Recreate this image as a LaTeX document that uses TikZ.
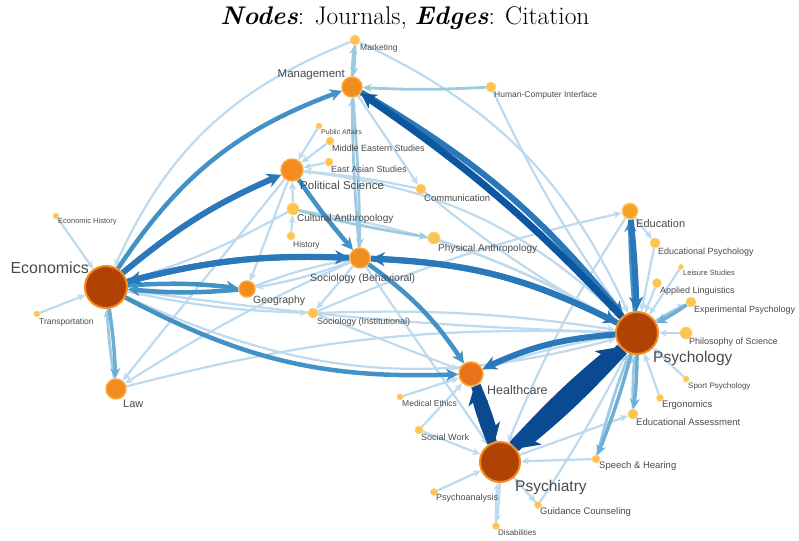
\documentclass[tikz,border=0pt]{standalone}
\usepackage{fontspec}
\newfontfamily\labfont{Liberation Sans}
\usetikzlibrary{arrows.meta, backgrounds}

\definecolor{jdark}{HTML}{B04303}
\definecolor{jrim}{HTML}{F28A1E}
\definecolor{jhc}{HTML}{E8711A}
\definecolor{jmid}{HTML}{F28C1E}
\definecolor{jmidrim}{HTML}{FBAA3A}
\definecolor{jedu}{HTML}{F9A22A}
\definecolor{jsmall}{HTML}{FEC451}
\definecolor{jsmallrim}{HTML}{FED47A}
\definecolor{labgray}{HTML}{4A4A4A}
\definecolor{bl1}{HTML}{BDDAEE}
\definecolor{bl2}{HTML}{9ECAE1}
\definecolor{bl3}{HTML}{6BAED6}
\definecolor{bl4}{HTML}{4292C6}
\definecolor{bl5}{HTML}{2A78B9}
\definecolor{bl6}{HTML}{0D56A0}
\definecolor{bl7}{HTML}{0A4A91}

\begin{document}
\begin{tikzpicture}[x=1pt, y=-1pt,
    jbig/.style={circle, fill=jdark, draw=jrim, line width=2pt, inner sep=0pt, minimum size=#1},
    jhealth/.style={circle, fill=jhc, draw=jmidrim, line width=1.6pt, inner sep=0pt, minimum size=#1},
    jmed/.style={circle, fill=jmid, draw=jmidrim, line width=1.4pt, inner sep=0pt, minimum size=#1},
    jedu/.style={circle, fill=jedu, draw=jsmallrim, line width=1.2pt, inner sep=0pt, minimum size=#1},
    jsm/.style={circle, fill=jsmall, draw=jsmallrim, line width=0.6pt, inner sep=0pt, minimum size=#1},
    lab/.style={font=\labfont\fontsize{#1}{#1}\selectfont, text=labgray, inner sep=0pt, anchor=west},
    w1/.style={draw=bl1, line width=2.2pt, -{Stealth[length=8pt, width=7pt, inset=2.5pt]}},
    w2/.style={draw=bl2, line width=2.8pt, -{Stealth[length=9pt, width=8pt, inset=3pt]}},
    w3/.style={draw=bl3, line width=3.5pt, -{Stealth[length=10pt, width=10pt, inset=3pt]}},
    w4/.style={draw=bl4, line width=4.5pt, -{Stealth[length=12pt, width=12pt, inset=3.5pt]}},
    w5/.style={draw=bl5, line width=6pt, -{Stealth[length=14pt, width=14pt, inset=4pt]}},
    w6/.style={draw=bl6, line width=7pt, -{Stealth[length=15pt, width=16pt, inset=4pt]}},
    w7/.style={draw=bl7, line width=10pt, -{Stealth[length=18pt, width=20pt, inset=5pt]}},
    w8/.style={draw=bl7, line width=13pt, -{Stealth[length=22pt, width=25pt, inset=6pt]}}
]
\useasboundingbox (0,0) rectangle (799,540);

\node[font=\fontsize{25.5}{28}\selectfont] (title) at (405,18)
     {\textbf{\textit{Nodes}}: Journals, \textbf{\textit{Edges}}: Citation};

% large journals
\node[jbig=42pt] (econ) at (106,287) {};
\node[jbig=42pt] (psych) at (637,333) {};
\node[jbig=40pt] (psychiatry) at (500,462) {};
\node[jhealth=24pt] (hc) at (471,374) {};
\node[jmed=20pt] (mgmt) at (352,87) {};
\node[jmed=22pt] (polsci) at (292,170) {};
\node[jmed=20pt] (socbeh) at (360,258) {};
\node[jmed=20pt] (law) at (116,389) {};
\node[jmed=16pt] (geo) at (247,289) {};
\node[jedu=16pt] (educ) at (630,211) {};

% small journals
\foreach \n/\px/\py/\s in {mkt/355/40/10, hci/491/87/10, pubaff/319/126/6,
    mideast/330/141/8, eastasian/329/162/8, comm/421/189/10, culanth/293/209/12,
    history/291/236/8, physanth/434/238/12, econhist/56/216/6, transp/37/314/6,
    socinst/313/313/10, medeth/400/397/6, socwork/419/430/8, psychoan/434/492/7,
    guid/538/505/7, disab/496/526/7, speech/596/459/8, edassess/633/414/10,
    ergo/660/398/7, sport/686/379/6, philsci/686/333/12, exppsych/691/302/10,
    appling/657/283/9, leisure/681/267/5, edpsych/655/243/10}
  \node[jsm=\s pt] (\n) at (\px,\py) {};

% names
\node[lab=16, anchor=east] (l-econ) at (89,268) {Economics};
\node[lab=11.5, anchor=east] (l-mgmt) at (345,75) {Management};
\foreach \n/\px/\py/\sz/\txt in {psych/653/358/15.5/Psychology,
    psychiatry/515/487/15.5/Psychiatry, hc/487/390/12.5/Healthcare,
    polsci/300/185/11.5/Political Science, socbeh/310/279/10.5/Sociology (Behavioral),
    geo/253/301/10.5/Geography, law/123/404/11/Law, educ/636/224/11/Education,
    culanth/297/219/10/Cultural Anthropology, physanth/438/249/10/Physical Anthropology,
    comm/424/198/9.5/Communication, socinst/317/322/9/Sociology (Institutional),
    hci/494/95/8.5/Human-Computer Interface, mkt/360/48/8.5/Marketing,
    pubaff/321/132/7/Public Affairs, mideast/332/148/9/Middle Eastern Studies,
    eastasian/331/169/9/East Asian Studies, history/293/245/8.5/History,
    econhist/58/222/7.5/Economic History, transp/39/322/8.5/Transportation,
    medeth/402/403/8.5/Medical Ethics, socwork/421/437/9/Social Work,
    psychoan/436/498/9/Psychoanalysis, guid/540/512/9.5/Guidance Counseling,
    disab/498/533/8/Disabilities, speech/599/466/9.5/Speech \& Hearing,
    edassess/636/422/9.5/Educational Assessment, ergo/662/405/9.5/Ergonomics,
    sport/688/386/8/Sport Psychology, philsci/689/342/9/Philosophy of Science,
    exppsych/694/310/9/Experimental Psychology, appling/660/291/9/Applied Linguistics,
    leisure/683/273/7.5/Leisure Studies, edpsych/658/252/9/Educational Psychology}
  \node[lab=\sz] (l-\n) at (\px,\py) {\txt};

\begin{scope}[on background layer]
% citations, light to heavy
\foreach \a/\b/\bd in {econhist/econ/0, transp/econ/0, mkt/econ/-22, culanth/econ/6,
    polsci/law/0, socbeh/law/-4, law/psych/8, psych/econ/3, econ/psych/-20,
    mkt/psych/20, hci/psych/-5, mgmt/comm/0, pubaff/polsci/0, mideast/polsci/0,
    eastasian/polsci/0, comm/polsci/-3, culanth/polsci/0, history/culanth/0,
    polsci/psych/18, polsci/geo/0, culanth/psych/10, physanth/psych/5, comm/psych/-5,
    geo/socbeh/5, socbeh/geo/5, socbeh/socinst/0, econ/socinst/-5, socinst/psych/5,
    socinst/educ/5, socinst/hc/0, medeth/hc/0, socwork/hc/0, socwork/psychiatry/0,
    socbeh/psychiatry/0, psychoan/psychiatry/0, guid/psychiatry/0, psychiatry/guid/0,
    disab/psychiatry/3, psychiatry/disab/3, speech/psychiatry/0, psychiatry/edassess/0,
    guid/psych/-3, educ/psychiatry/-5, educ/edpsych/0, edpsych/psych/0, leisure/psych/0,
    appling/psych/0, sport/psych/0, ergo/psych/0, philsci/psych/0, hc/psych/5}
  \draw[w1] (\a) to[bend left=\bd] (\b);
\foreach \a/\b/\bd in {law/econ/3, mkt/mgmt/3, mgmt/mkt/3, hci/mgmt/3,
    mgmt/socbeh/2, socbeh/mgmt/2, culanth/physanth/-3, edassess/psych/3,
    speech/psych/3, psych/exppsych/3}
  \draw[w2] (\a) to[bend left=\bd] (\b);
\foreach \a/\b/\bd in {econ/law/3, exppsych/psych/3, psych/speech/3, psych/edassess/3}
  \draw[w3] (\a) to[bend left=\bd] (\b);
\foreach \a/\b/\bd in {polsci/socbeh/-3, econ/geo/5, geo/econ/5, econ/hc/-15,
    socbeh/hc/10, econ/mgmt/18, psych/educ/2}
  \draw[w4] (\a) to[bend left=\bd] (\b);
\foreach \a/\b/\bd in {econ/polsci/8, econ/socbeh/8, socbeh/econ/-8, psych/socbeh/-12,
    socbeh/psych/12, psych/hc/-10, educ/psych/2, mgmt/psych/10}
  \draw[w5] (\a) to[bend left=\bd] (\b);
\draw[w6] (psych) to[bend right=6] (mgmt);
\draw[w7] (hc) to[bend left=4] (psychiatry);
\draw[w7] (psychiatry) to[bend left=4] (hc);
\draw[w8] (psychiatry) to[bend left=4] (psych);
\draw[w8] (psych) to[bend left=4] (psychiatry);
\end{scope}
\end{tikzpicture}
\end{document}
